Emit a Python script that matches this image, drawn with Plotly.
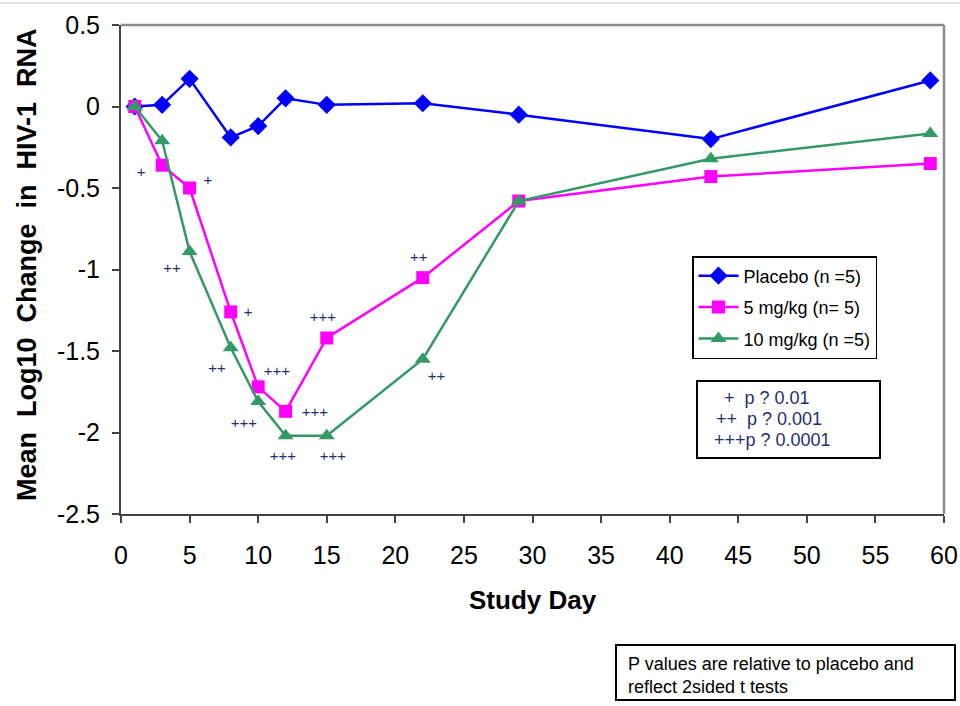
import plotly.graph_objects as go

# ---------------- data ----------------
days = [1, 3, 5, 8, 10, 12, 15, 22, 29, 43, 59]
placebo = [0.0, 0.01, 0.17, -0.19, -0.12, 0.05, 0.01, 0.02, -0.05, -0.20, 0.16]
dose5 = [0.0, -0.36, -0.50, -1.26, -1.72, -1.87, -1.42, -1.05, -0.58, -0.43, -0.35]
dose10 = [0.0, -0.21, -0.89, -1.48, -1.81, -2.02, -2.02, -1.55, -0.58, -0.32, -0.165]

series_names = ["Placebo (n =5)", "5 mg/kg (n= 5)", "10 mg/kg (n =5)"]

sig_x = [1.46, 6.34, 3.72, 9.26, 7.0, 11.37, 14.72, 8.96, 14.14, 11.8, 15.45, 21.7, 23.0]
sig_y = [-0.41, -0.457, -1.0, -1.27, -1.61, -1.63, -1.30, -1.95, -1.88, -2.15, -2.15, -0.93, -1.66]
sig_text = ["+", "+", "++", "+", "++", "+++", "+++", "+++", "+++", "+++", "+++", "++", "++"]

pkey_lines = ["+  p ? 0.01", "++  p ? 0.001", "+++p ? 0.0001"]
note_text = "P values are relative to placebo and<br>reflect 2sided t tests"

x_ticks = list(range(0, 61, 5))
y_ticks = [0.5, 0, -0.5, -1, -1.5, -2, -2.5]
y_tick_labels = ["0.5", "0", "-0.5", "-1", "-1.5", "-2", "-2.5"]

# ---------------- layout helpers ----------------
W, H = 960, 706
L, R, T, B = 121, 944, 25, 514


def px(x):
    return (x - L) / (R - L)


def py(y):
    return (B - y) / (B - T)


FONT = "Liberation Sans, Arial, sans-serif"
NAVY = "#1f2f72"

fig = go.Figure()

fig.add_trace(go.Scatter(
    x=days, y=placebo, name=series_names[0], mode="lines+markers",
    line=dict(color="#0000FF", width=2.5),
    marker=dict(symbol="diamond", size=14, color="#0000FF"),
    legendgroup="a"))
fig.add_trace(go.Scatter(
    x=days, y=dose5, name=series_names[1], mode="lines+markers",
    line=dict(color="#FF00FF", width=2.5),
    marker=dict(symbol="square", size=13, color="#FF00FF"),
    legendgroup="b"))
fig.add_trace(go.Scatter(
    x=days, y=dose10, name=series_names[2], mode="lines+markers",
    line=dict(color="#339966", width=2.5),
    marker=dict(symbol="triangle-up", size=14, color="#339966"),
    legendgroup="c"))

fig.add_trace(go.Scatter(
    x=sig_x, y=sig_y, text=sig_text, mode="text",
    textfont=dict(family=FONT, size=15, color=NAVY),
    showlegend=False, hoverinfo="skip"))

annotations = []
# p-value key box lines
pk_x = [722, 714, 712]
pk_y = [398, 419, 440]
for t, xx, yy in zip(pkey_lines, pk_x, pk_y):
    annotations.append(dict(
        x=px(xx), y=py(yy), xref="paper", yref="paper",
        text=t.replace(" ", "&nbsp;"), showarrow=False,
        xanchor="left", yanchor="middle",
        font=dict(family=FONT, size=18, color=NAVY)))

# note box text
annotations.append(dict(
    x=px(626), y=py(675), xref="paper", yref="paper",
    text=note_text, showarrow=False, xanchor="left", yanchor="middle",
    align="left", font=dict(family=FONT, size=18, color="#000000")))

# axis titles
annotations.append(dict(
    x=px(27), y=py(265), xref="paper", yref="paper",
    text="<b>Mean  Log10  Change  in  HIV-1  RNA</b>".replace("  ", "&nbsp;&nbsp;"),
    showarrow=False, textangle=-90, xanchor="center", yanchor="middle",
    font=dict(family=FONT, size=27, color="#000000")))
annotations.append(dict(
    x=px(533), y=py(600), xref="paper", yref="paper",
    text="<b>Study Day</b>", showarrow=False, xanchor="center", yanchor="middle",
    font=dict(family=FONT, size=26, color="#000000")))

shapes = [
    # top & right frame lines
    dict(type="line", xref="paper", yref="paper", x0=0, x1=1, y0=1, y1=1,
         line=dict(color="#8c8c8c", width=2.5)),
    dict(type="line", xref="paper", yref="paper", x0=1, x1=1, y0=0, y1=1,
         line=dict(color="#8c8c8c", width=2.5)),
    # p-value key box
    dict(type="rect", xref="paper", yref="paper",
         x0=px(697), x1=px(880), y0=py(458), y1=py(381),
         line=dict(color="#000000", width=2), fillcolor="rgba(0,0,0,0)"),
    # note box
    dict(type="rect", xref="paper", yref="paper",
         x0=px(616), x1=px(955), y0=py(700), y1=py(645),
         line=dict(color="#000000", width=2), fillcolor="rgba(0,0,0,0)"),
    # thin line at top of page
    dict(type="line", xref="paper", yref="paper", x0=px(0), x1=px(960),
         y0=py(3), y1=py(3), line=dict(color="#cccccc", width=1)),
]

fig.update_layout(
    width=W, height=H, autosize=False,
    margin=dict(l=L, r=W - R, t=T, b=H - B, pad=0, autoexpand=False),
    paper_bgcolor="white", plot_bgcolor="white",
    font=dict(family=FONT, size=20, color="#000000"),
    showlegend=True,
    legend=dict(
        x=px(692), y=py(256), xanchor="left", yanchor="top",
        bordercolor="#000000", borderwidth=1.5, bgcolor="white",
        font=dict(family=FONT, size=18, color="#000000"),
        tracegroupgap=5, itemwidth=40, traceorder="grouped"),
    annotations=annotations,
    shapes=shapes,
)

fig.update_xaxes(
    range=[0, 60], tickvals=x_ticks, ticktext=[str(v) for v in x_ticks],
    showgrid=False, zeroline=False, showline=True, linecolor="#444444", linewidth=2,
    ticks="outside", ticklen=7, tickwidth=1.5, tickcolor="#444444",
    tickfont=dict(family=FONT, size=25), ticklabelstandoff=11,
    automargin=False, ticklabeloverflow="allow")
fig.update_yaxes(
    range=[-2.5, 0.5], tickvals=y_ticks, ticktext=y_tick_labels,
    showgrid=False, zeroline=False, showline=True, linecolor="#444444", linewidth=2,
    ticks="outside", ticklen=7, tickwidth=1.5, tickcolor="#444444",
    tickfont=dict(family=FONT, size=25), ticklabelstandoff=7,
    automargin=False, ticklabeloverflow="allow")

fig.write_html(
    "out.html",
    config={"responsive": False, "displayModeBar": False},
    post_script="document.body.style.margin='0px';document.body.style.overflow='hidden';",
)
